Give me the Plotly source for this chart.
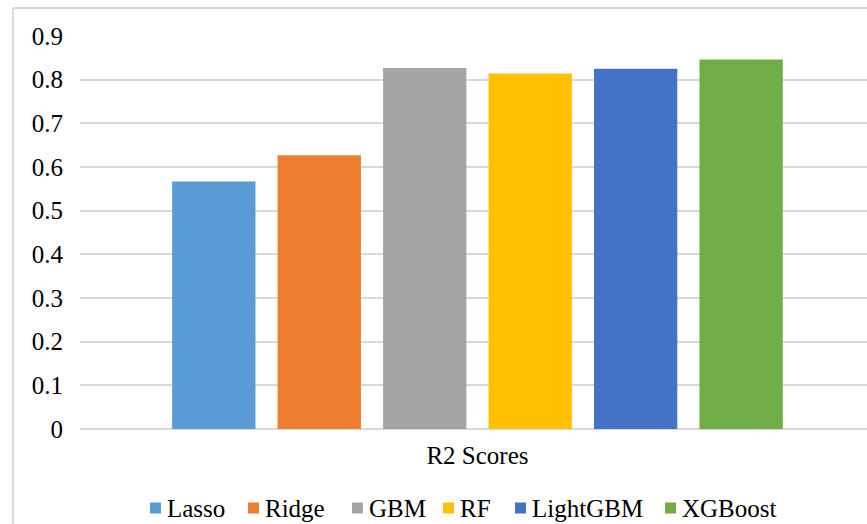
import plotly.graph_objects as go

# Model comparison: R2 score per regression model
category = ["R2 Scores"]
models = ["Lasso", "Ridge", "GBM", "RF", "LightGBM", "XGBoost"]
r2_scores = [0.567, 0.627, 0.827, 0.814, 0.825, 0.846]
colors = ["#5B9BD5", "#ED7D31", "#A5A5A5", "#FFC000", "#4472C4", "#70AD47"]
y_ticks = [0, 0.1, 0.2, 0.3, 0.4, 0.5, 0.6, 0.7, 0.8, 0.9]

FONT = "Liberation Serif"
GRID = "#d9d9d9"

W, H = 867, 524
M_L, M_R, M_T, M_B = 80, 0, 36, 95
PLOT_W = W - M_L - M_R
PLOT_H = H - M_T - M_B


def px_to_paper_x(px):
    return (px - M_L) / PLOT_W


def px_to_paper_y(py):
    return (H - M_B - py) / PLOT_H


fig = go.Figure()
for name, val, col in zip(models, r2_scores, colors):
    fig.add_trace(go.Bar(
        name=name, x=category, y=[val],
        marker=dict(color=col, line=dict(width=0)),
        showlegend=False,
    ))

fig.update_layout(
    width=W, height=H,
    margin=dict(l=M_L, r=M_R, t=M_T, b=M_B, autoexpand=False),
    paper_bgcolor="white", plot_bgcolor="white",
    barmode="group", bargap=0.203, bargroupgap=0.21,
    font=dict(family=FONT, size=25, color="#000000"),
    xaxis=dict(
        type="category", range=[-0.5006, 0.4906], automargin=False,
        showgrid=False, showline=False, zeroline=False,
        ticks="", ticklabelstandoff=9,
        tickfont=dict(family=FONT, size=25, color="#000000"),
    ),
    yaxis=dict(
        range=[0, 0.9], tickvals=y_ticks, automargin=False,
        ticktext=[f"{v:g}" for v in y_ticks],
        showgrid=True, gridcolor=GRID, gridwidth=2,
        zeroline=True, zerolinecolor=GRID, zerolinewidth=2,
        showline=False, ticks="", ticklabelstandoff=16,
        tickfont=dict(family=FONT, size=25, color="#000000"),
    ),
)

# Legend row below the axis: colour swatch followed by the model name
legend_left_px = [150, 248, 352, 443, 515, 665]
legend_cy_px = 508
swatch = 11
for name, col, lx in zip(models, colors, legend_left_px):
    fig.add_shape(type="rect", xref="paper", yref="paper",
                  x0=px_to_paper_x(lx), x1=px_to_paper_x(lx + swatch),
                  y0=px_to_paper_y(legend_cy_px + swatch / 2),
                  y1=px_to_paper_y(legend_cy_px - swatch / 2),
                  fillcolor=col, line=dict(width=0))
    fig.add_annotation(text=name, xref="paper", yref="paper",
                       x=px_to_paper_x(lx + swatch + 4), y=px_to_paper_y(legend_cy_px),
                       xanchor="left", yanchor="middle", showarrow=False,
                       font=dict(family=FONT, size=25, color="#000000"))

# Chart-area border (top and left edges visible)
fig.add_shape(type="line", xref="paper", yref="paper",
              x0=px_to_paper_x(13), x1=px_to_paper_x(W + 20),
              y0=px_to_paper_y(8), y1=px_to_paper_y(8),
              line=dict(color=GRID, width=2))
fig.add_shape(type="line", xref="paper", yref="paper",
              x0=px_to_paper_x(13), x1=px_to_paper_x(13),
              y0=px_to_paper_y(8), y1=px_to_paper_y(H + 20),
              line=dict(color=GRID, width=2))

fig.write_html("out.html")
